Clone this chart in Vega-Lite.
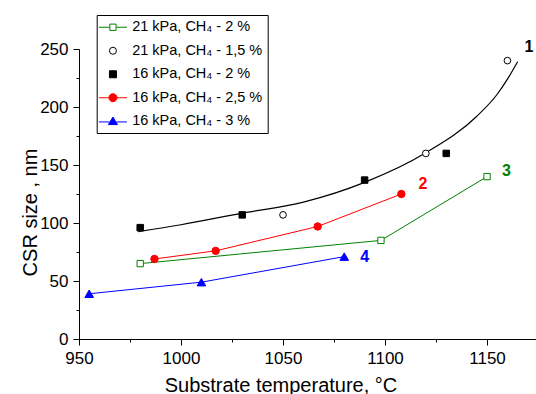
{
  "$schema": "https://vega.github.io/schema/vega-lite/v6.json",
  "width": 457,
  "height": 290,
  "autosize": {"type": "none"},
  "padding": {"left": 79, "top": 49, "right": 0, "bottom": 55},
  "background": "white",
  "config": {
    "view": {"stroke": null},
    "font": "Liberation Sans",
    "axis": {"grid": false, "domainColor": "black", "tickColor": "black", "labelColor": "black", "titleColor": "black", "labelFont": "Liberation Sans", "titleFont": "Liberation Sans", "labelFlush": false, "labelOverlap": false},
    "legend": {"orient": "none", "legendX": 17.7, "legendY": -34, "strokeColor": "black", "padding": 5, "rowPadding": 8.5, "labelFontSize": 14.5, "labelFont": "Liberation Sans", "labelColor": "black", "symbolOffset": 4, "labelOffset": 12, "labelLimit": 300, "symbolSize": 49, "symbolStrokeWidth": 1, "symbolFillColor": "white"}
  },
  "datasets": {
    "pts": [
      {"s": "21 kPa, CH₄ - 2 %", "t": 980, "d": 65},
      {"s": "21 kPa, CH₄ - 2 %", "t": 1098, "d": 85},
      {"s": "21 kPa, CH₄ - 2 %", "t": 1150, "d": 140},
      {"s": "21 kPa, CH₄ - 1,5 %", "t": 1050, "d": 107},
      {"s": "21 kPa, CH₄ - 1,5 %", "t": 1120, "d": 160},
      {"s": "21 kPa, CH₄ - 1,5 %", "t": 1160, "d": 240},
      {"s": "16 kPa, CH₄ - 2 %", "t": 980, "d": 96},
      {"s": "16 kPa, CH₄ - 2 %", "t": 1030, "d": 107},
      {"s": "16 kPa, CH₄ - 2 %", "t": 1090, "d": 137},
      {"s": "16 kPa, CH₄ - 2 %", "t": 1130, "d": 160},
      {"s": "16 kPa, CH₄ - 2,5 %", "t": 987, "d": 69},
      {"s": "16 kPa, CH₄ - 2,5 %", "t": 1017, "d": 76},
      {"s": "16 kPa, CH₄ - 2,5 %", "t": 1067, "d": 97},
      {"s": "16 kPa, CH₄ - 2,5 %", "t": 1108, "d": 125},
      {"s": "16 kPa, CH₄ - 3 %", "t": 955, "d": 39},
      {"s": "16 kPa, CH₄ - 3 %", "t": 1010, "d": 49},
      {"s": "16 kPa, CH₄ - 3 %", "t": 1080, "d": 71}
    ],
    "curve": [
      {"t": 979, "d": 92.5},
      {"t": 1000, "d": 98.5},
      {"t": 1030, "d": 108.5},
      {"t": 1060, "d": 118},
      {"t": 1090, "d": 135},
      {"t": 1120, "d": 160.5},
      {"t": 1145, "d": 192},
      {"t": 1155, "d": 211},
      {"t": 1160, "d": 224},
      {"t": 1165, "d": 239}
    ],
    "labels": [
      {"lab": "1", "t": 1170.6, "d": 252},
      {"lab": "2", "t": 1118.6, "d": 133.6},
      {"lab": "3", "t": 1159.5, "d": 144.8},
      {"lab": "4", "t": 1090, "d": 70.7}
    ]
  },
  "layer": [
    {
      "data": {"name": "curve"},
      "mark": {"type": "line", "color": "black", "strokeWidth": 1.2, "interpolate": "monotone"},
      "encoding": {
        "x": {"field": "t", "type": "quantitative", "scale": {"domain": [950, 1174], "nice": false, "zero": false},
              "axis": {"orient": "bottom", "values": [975, 1025, 1075, 1125], "labels": false, "domain": false, "tickSize": 3, "title": null}},
        "y": {"field": "d", "type": "quantitative", "scale": {"domain": [0, 250], "nice": false},
              "axis": {"orient": "left", "values": [25, 75, 125, 175, 225], "labels": false, "domain": false, "tickSize": 3, "title": null}}
      }
    },
    {
      "data": {"name": "pts"},
      "transform": [{"filter": {"field": "s", "oneOf": ["21 kPa, CH₄ - 2 %", "16 kPa, CH₄ - 2,5 %", "16 kPa, CH₄ - 3 %"]}}],
      "mark": {"type": "line", "strokeWidth": 1},
      "encoding": {
        "x": {"field": "t", "type": "quantitative", "axis": null},
        "y": {"field": "d", "type": "quantitative", "axis": null},
        "color": {"field": "s", "type": "nominal", "legend": null,
                  "scale": {"domain": ["21 kPa, CH₄ - 2 %", "16 kPa, CH₄ - 2,5 %", "16 kPa, CH₄ - 3 %"], "range": ["#008000", "#ff0000", "#0000ff"]}}
      }
    },
    {
      "data": {"name": "pts"},
      "transform": [{"filter": {"field": "s", "equal": "21 kPa, CH₄ - 2 %"}}],
      "mark": {"type": "point", "shape": "square", "size": 40, "stroke": "#008000", "fill": "white", "fillOpacity": 1, "strokeWidth": 1, "opacity": 1},
      "encoding": {
        "x": {"field": "t", "type": "quantitative",
              "axis": {"orient": "bottom", "values": [950, 1000, 1050, 1100, 1150], "format": "d", "tickSize": 6, "labelFontSize": 17, "labelPadding": 5,
                       "title": "Substrate temperature, °C", "titleFontSize": 20, "titleFontWeight": "normal", "titleX": 201.5, "titleY": 52, "titleAlign": "center", "titleBaseline": "alphabetic"}},
        "y": {"field": "d", "type": "quantitative",
              "axis": {"orient": "left", "values": [0, 50, 100, 150, 200, 250], "format": "d", "tickSize": 6, "labelFontSize": 17, "labelPadding": 5,
                       "title": "CSR size , nm", "titleFontSize": 20, "titleFontWeight": "normal", "titleAngle": -90, "titleX": -42.6, "titleY": 163, "titleAlign": "center", "titleBaseline": "alphabetic"}}
      }
    },
    {
      "data": {"name": "pts"},
      "transform": [{"filter": {"field": "s", "equal": "21 kPa, CH₄ - 1,5 %"}}],
      "mark": {"type": "point", "shape": "circle", "size": 45, "stroke": "black", "fill": "white", "fillOpacity": 1, "strokeWidth": 1, "opacity": 1},
      "encoding": {
        "x": {"field": "t", "type": "quantitative", "axis": null},
        "y": {"field": "d", "type": "quantitative", "axis": null}
      }
    },
    {
      "data": {"name": "pts"},
      "transform": [{"filter": {"field": "s", "equal": "16 kPa, CH₄ - 2 %"}}],
      "mark": {"type": "point", "shape": "square", "size": 42, "stroke": "black", "fill": "black", "fillOpacity": 1, "strokeWidth": 1, "opacity": 1},
      "encoding": {
        "x": {"field": "t", "type": "quantitative", "axis": null},
        "y": {"field": "d", "type": "quantitative", "axis": null}
      }
    },
    {
      "data": {"name": "pts"},
      "transform": [{"filter": {"field": "s", "equal": "16 kPa, CH₄ - 2,5 %"}}],
      "mark": {"type": "point", "shape": "circle", "size": 55, "stroke": "#ff0000", "fill": "#ff0000", "fillOpacity": 1, "strokeWidth": 1, "opacity": 1},
      "encoding": {
        "x": {"field": "t", "type": "quantitative", "axis": null},
        "y": {"field": "d", "type": "quantitative", "axis": null}
      }
    },
    {
      "data": {"name": "pts"},
      "transform": [{"filter": {"field": "s", "equal": "16 kPa, CH₄ - 3 %"}}],
      "mark": {"type": "point", "shape": "triangle-up", "size": 75, "stroke": "#0000ff", "fill": "#0000ff", "fillOpacity": 1, "strokeWidth": 1, "opacity": 1},
      "encoding": {
        "x": {"field": "t", "type": "quantitative", "axis": null},
        "y": {"field": "d", "type": "quantitative", "axis": null}
      }
    },
    {
      "data": {"name": "pts"},
      "mark": {"type": "point", "filled": true, "opacity": 0, "size": 49, "strokeWidth": 1},
      "encoding": {
        "x": {"field": "t", "type": "quantitative", "axis": null},
        "y": {"field": "d", "type": "quantitative", "axis": null},
        "shape": {"field": "s", "type": "nominal", "legend": {"title": null},
                  "scale": {"domain": ["21 kPa, CH₄ - 2 %", "21 kPa, CH₄ - 1,5 %", "16 kPa, CH₄ - 2 %", "16 kPa, CH₄ - 2,5 %", "16 kPa, CH₄ - 3 %"],
                            "range": ["M-4,0L-1,0M1,0L4,0M-0.9,-0.9L0.9,-0.9L0.9,0.9L-0.9,0.9Z", "circle", "square", "M-4,0L-1.15,0M1.15,0L4,0M1.15,0A1.15,1.15,0,1,1,-1.15,0A1.15,1.15,0,1,1,1.15,0Z", "M-4,0.2L-1,0.2M1,0.2L4,0.2M0,-1.2L1.3,0.95L-1.3,0.95Z"]}},
        "stroke": {"field": "s", "type": "nominal", "legend": {"title": null},
                   "scale": {"domain": ["21 kPa, CH₄ - 2 %", "21 kPa, CH₄ - 1,5 %", "16 kPa, CH₄ - 2 %", "16 kPa, CH₄ - 2,5 %", "16 kPa, CH₄ - 3 %"],
                             "range": ["#008000", "black", "black", "#ff0000", "#0000ff"]}},
        "fill": {"field": "s", "type": "nominal", "legend": {"title": null},
                 "scale": {"domain": ["21 kPa, CH₄ - 2 %", "21 kPa, CH₄ - 1,5 %", "16 kPa, CH₄ - 2 %", "16 kPa, CH₄ - 2,5 %", "16 kPa, CH₄ - 3 %"],
                           "range": ["white", "white", "black", "#ff0000", "#0000ff"]}}
      }
    },
    {
      "data": {"name": "labels"},
      "mark": {"type": "text", "fontSize": 16, "fontWeight": "bold", "align": "center", "baseline": "middle", "font": "Liberation Sans"},
      "encoding": {
        "x": {"field": "t", "type": "quantitative", "axis": null},
        "y": {"field": "d", "type": "quantitative", "axis": null},
        "text": {"field": "lab", "type": "nominal"},
        "color": {"field": "lab", "type": "nominal", "legend": null,
                  "scale": {"domain": ["1", "2", "3", "4"], "range": ["black", "#ff0000", "#008000", "#0000ff"]}}
      }
    }
  ],
  "resolve": {
    "scale": {"color": "independent", "shape": "independent", "fill": "independent", "stroke": "independent"},
    "axis": {"x": "independent", "y": "independent"}
  }
}
